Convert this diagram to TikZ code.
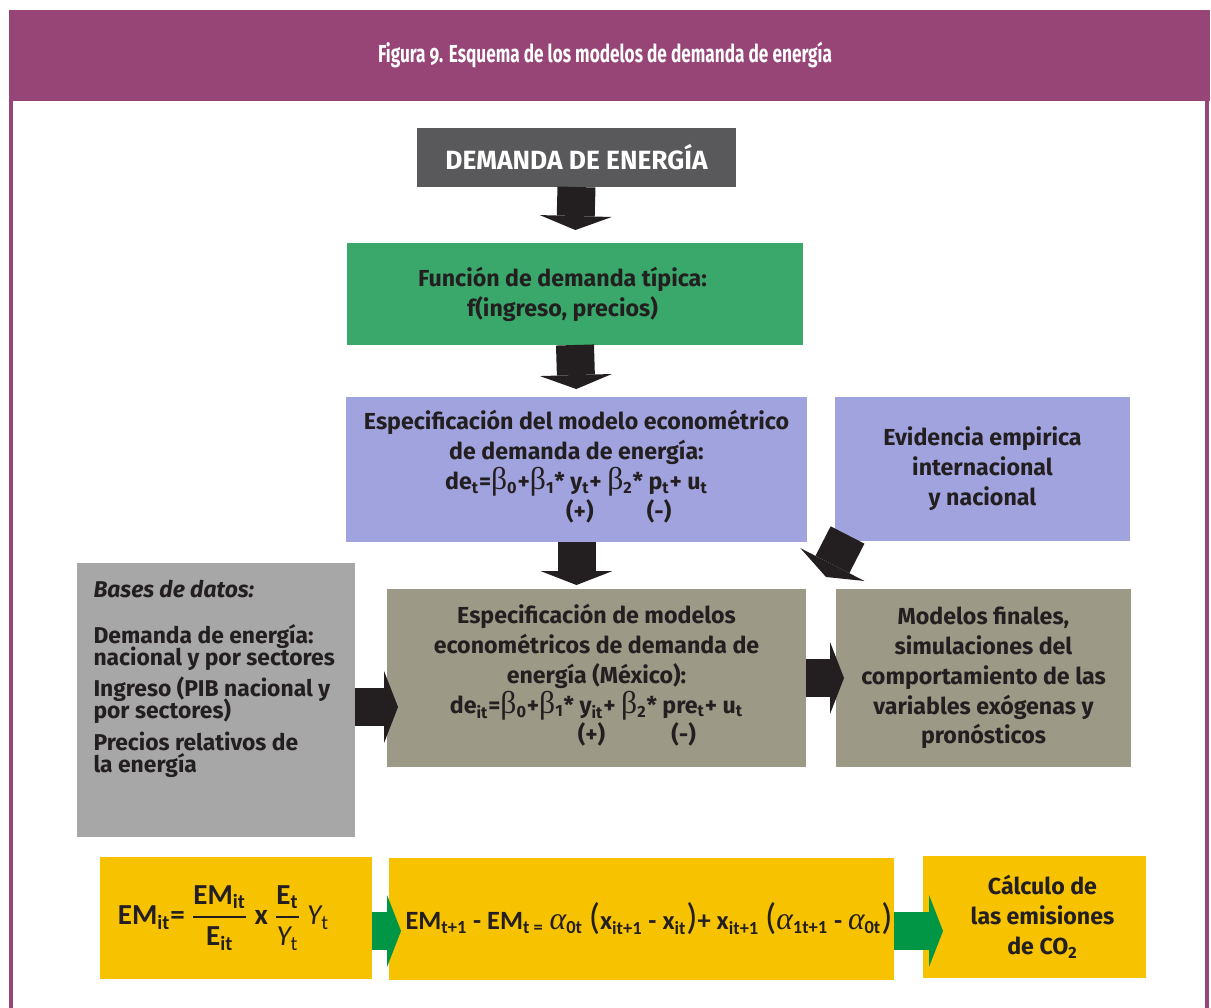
\documentclass[tikz,border=0pt]{standalone}
\usepackage{amsmath}
\usepackage{fontspec}
\setmainfont{Fira Sans}
\newfontfamily\titlefont[FakeStretch=0.7,Numbers=OldStyle]{Fira Sans}
\newfontfamily\calfont{Carlito}
\newfontfamily\greekfont{Liberation Serif}
\usetikzlibrary{arrows.meta}

\definecolor{plum}{RGB}{151,69,119}
\definecolor{ink}{RGB}{35,31,32}
\definecolor{slate}{RGB}{89,89,91}
\definecolor{leaf}{RGB}{57,168,106}
\definecolor{lilac}{RGB}{161,163,222}
\definecolor{olive}{RGB}{156,153,134}
\definecolor{silver}{RGB}{167,167,167}
\definecolor{amber}{RGB}{247,195,0}
\definecolor{grass}{RGB}{0,150,70}

% sign written under a term
\newcommand{\signbelow}[2]{\begin{tabular}[t]{@{}c@{}}#1\\\makebox[0pt]{#2}\end{tabular}}
\newcommand{\gk}[1]{{\greekfont\mdseries\fontsize{18}{17}\selectfont #1}}
\newcommand{\ga}[1]{{\greekfont\mdseries\itshape\fontsize{18}{17}\selectfont #1}}
\newcommand{\bigpar}[1]{{\mdseries\fontsize{21}{17}\selectfont #1}}
\newcommand{\sbs}[1]{\textsubscript{#1}}

\begin{document}
\begin{tikzpicture}[x=0.02cm, y=-0.02cm,
    box/.style={inner sep=0pt, outer sep=0pt, align=center, text=ink,
      font=\bfseries\fontsize{13.2}{17}\selectfont},
    formbox/.style={box, fill=amber, minimum height=2.44cm,
      font=\calfont\bfseries\fontsize{15}{17}\selectfont},
    blkarrow/.style={draw=ink, line width=0.76cm,
      -{Triangle[width=1.44cm, length=0.28cm, line width=0pt]}},
    grnarrow/.style={blkarrow, draw=grass}]

    \useasboundingbox (0,0) rectangle (1211,1008);

    % Frame and title
    \fill[plum] (9,10) rectangle (1210,101);
    \draw[plum, line width=0.08cm] (11,100) -- (11,1012);
    \draw[plum, line width=0.08cm] (1207,100) -- (1207,1012);
    \node[text=white, font=\titlefont\bfseries\fontsize{14}{15}\selectfont] (title) at (605,55)
        {Figura 9. Esquema de los modelos de demanda de energía};

    % Boxes
    \node[box, fill=slate, text=white, minimum width=6.38cm, minimum height=1.18cm,
        font=\bfseries\fontsize{15}{15}\selectfont] (demanda) at (576.5,157.5) {DEMANDA DE ENERGÍA};
    \node[box, fill=leaf, minimum width=9.12cm, minimum height=2.04cm] (funcion) at (575,294)
        {Función de demanda típica:\hspace*{0.5cm}\\f(ingreso, precios)\hspace*{0.5cm}};
    \node[box, fill=lilac, minimum width=9.22cm, minimum height=2.9cm] (spec) at (576.5,469.5)
        {Especificación del modelo econométrico\\de demanda de energía:\\
         de\sbs{t}=\gk{β}\sbs{0}+\gk{β}\sbs{1}* \signbelow{y\sbs{t}}{(+)}+ \gk{β}\sbs{2}* \signbelow{p\sbs{t}}{(-)}+ u\sbs{t}};
    \node[box, fill=lilac, minimum width=5.9cm, minimum height=2.88cm] (evid) at (982.5,469)
        {Evidencia empirica\\internacional\\y nacional};
    \node[box, fill=silver, inner xsep=0.33cm, inner ysep=0.34cm] (bases) at (216,700)
        {\parbox[c][4.8cm][t]{4.9cm}{\raggedright\fontsize{13}{12.5}\selectfont
          \parskip=0pt \lineskiplimit=-\maxdimen
          \textit{Bases de datos:}\par\vspace{0.48cm}
          Demanda de energía:\\nacional y por sectores\par\vspace{0.18cm}
          Ingreso (PIB nacional y\\por sectores)\par\vspace{0.2cm}
          Precios relativos de\\la energía}};
    \node[box, fill=olive, minimum width=8.38cm, minimum height=3.56cm] (esp) at (596.5,678)
        {Especificación de modelos\\econométricos de demanda de\\energía (México):\\
         de\sbs{it}=\gk{β}\sbs{0}+\gk{β}\sbs{1}* \signbelow{y\sbs{it}}{(+)}+ \gk{β}\sbs{2}* \signbelow{pre\sbs{t}}{(-)}+ u\sbs{t}};
    \node[box, fill=olive, minimum width=5.9cm, minimum height=3.56cm] (modelos) at (983.5,678)
        {Modelos finales,\\simulaciones del\\comportamiento de las\\variables exógenas y\\pronósticos};

    % Emissions row
    \node[formbox, minimum width=5.44cm, font=\calfont\bfseries\fontsize{16.5}{17}\selectfont] (emA) at (236,918)
        {EM\sbs{it}= $\genfrac{}{}{1.1pt}{0}{\hbox{EM\sbs{it}}}{\hbox{E\sbs{it}}}$ x
         $\genfrac{}{}{1.1pt}{0}{\hbox{E\sbs{t}}}{\hbox{\mdseries\itshape Y\sbs{\upshape t}}}$
         {\mdseries\itshape Y}\sbs{\mdseries t}\hspace*{0.5cm}};
    \node[formbox, minimum width=10.1cm] (emB) at (641.5,919)
        {\hspace*{0.3cm}EM\sbs{t+1} - EM\sbs{t =} \ga{α}\sbs{0t}
         \bigpar{(}x\sbs{it+1} - x\sbs{it}\bigpar{)}+
         x\sbs{it+1} \bigpar{(}\ga{α}\sbs{1t+1} - \ga{α}\sbs{0t}\bigpar{)}};
    \node[box, fill=amber, minimum width=4.46cm, minimum height=2.44cm] (co2) at (1034.5,917)
        {\hspace*{0.32cm}Cálculo de\\\hspace*{0.32cm}las emisiones\\\hspace*{0.32cm}de CO\sbs{2}};

    % Arrows
    \draw[blkarrow, shorten >=0.26cm] (demanda.south) -- (funcion.north);
    \draw[blkarrow, shorten >=0.16cm] (funcion.south) -- (spec.north);
    \draw[blkarrow, shorten >=0.08cm] (spec.south) -- (spec.south |- esp.north);
    \coordinate (evtip) at (826,577);
    \draw[blkarrow] ([xshift=0.25cm, yshift=0.12cm]evid.south west) -- (evtip);
    \coordinate (dbout) at ([yshift=-0.14cm]bases.east);
    \draw[blkarrow, shorten >=-0.22cm] (dbout) -- (dbout -| esp.west);
    \draw[blkarrow, shorten >=-0.16cm] (esp.east) -- (modelos.west);
    \coordinate (gaout) at ([yshift=-0.26cm]emA.east);
    \draw[grnarrow, shorten >=-0.24cm] (gaout) -- (gaout -| emB.west);
    \coordinate (gbout) at ([yshift=-0.24cm]emB.east);
    \draw[grnarrow, shorten >=-0.4cm] (gbout) -- (gbout -| co2.west);

\end{tikzpicture}
\end{document}
